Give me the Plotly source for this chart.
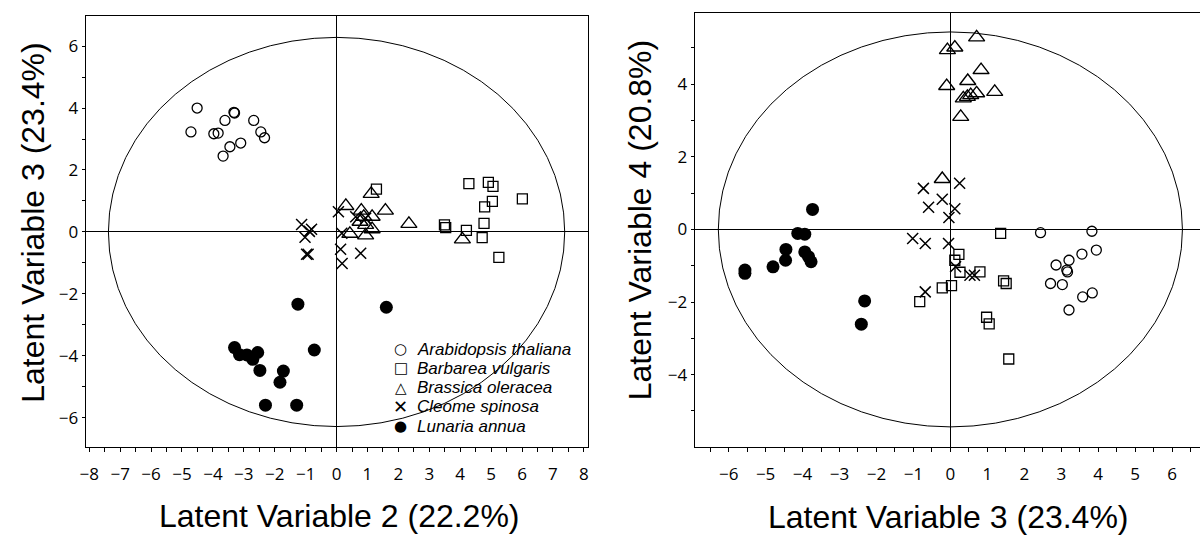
import plotly.graph_objects as go

W, H = 1201, 536

species = ["Arabidopsis thaliana", "Barbarea vulgaris", "Brassica oleracea",
           "Cleome spinosa", "Lunaria annua"]
legend_glyphs = ["○", "□", "△", "✕", "●"]
legend_glyph_sizes = [15, 15, 15, 18, 15]

# ---- Left panel: LV2 (x) vs LV3 (y) ----
ara_lv2 = [-4.71, -4.51, -3.97, -3.83, -3.61, -3.32, -3.30, -3.67, -3.45, -3.10, -2.68, -2.45, -2.33]
ara_lv3 = [3.23, 4.00, 3.17, 3.19, 3.60, 3.86, 3.84, 2.45, 2.75, 2.87, 3.60, 3.23, 3.04]

bar_lv2 = [1.29, 4.28, 4.91, 5.06, 6.01, 5.04, 4.79, 4.77, 3.49, 3.53, 4.20, 4.71, 5.25]
bar_lv3 = [1.38, 1.56, 1.60, 1.47, 1.07, 0.99, 0.81, 0.28, 0.23, 0.14, 0.05, -0.18, -0.82]

bra_lv2 = [1.12, 0.30, 0.80, 1.58, 0.88, 1.15, 0.76, 0.94, 1.15, 0.43, 0.94, 2.34, 4.07]
bra_lv3 = [1.23, 0.84, 0.69, 0.69, 0.49, 0.49, 0.33, 0.23, 0.09, -0.06, -0.11, 0.26, -0.24]

cle_lv2 = [-1.13, -0.81, -1.02, -0.97, -0.92, 0.06, 0.17, 0.13, 0.18, 0.78, 0.62, 0.94, -0.88]
cle_lv3 = [0.24, 0.09, -0.17, -0.72, -0.72, 0.65, -0.04, -0.56, -1.02, -0.69, 0.49, 0.44, 0.02]

lun_lv2 = [-1.25, -3.30, -3.14, -2.90, -2.71, -2.55, -2.48, -1.72, -1.83, -0.72, -2.30, -1.29, 1.61]
lun_lv3 = [-2.33, -3.73, -3.96, -3.97, -4.11, -3.89, -4.47, -4.49, -4.85, -3.81, -5.59, -5.59, -2.43]

# ---- Right panel: LV3 (x) vs LV4 (y) ----
ara_r3 = [2.44, 3.83, 3.95, 3.56, 3.21, 2.86, 3.15, 3.17, 2.71, 3.03, 3.84, 3.58, 3.21]
ara_r4 = [-0.09, -0.05, -0.57, -0.68, -0.85, -0.98, -1.12, -1.17, -1.49, -1.52, -1.75, -1.86, -2.22]

bar_r3 = [1.36, 0.23, 0.12, 0.26, 0.80, 1.44, 1.51, 0.03, -0.22, -0.83, 0.98, 1.05, 1.58]
bar_r4 = [-0.11, -0.69, -0.85, -1.18, -1.17, -1.42, -1.49, -1.55, -1.61, -1.99, -2.42, -2.60, -3.57]

bra_r3 = [0.71, -0.08, 0.12, 0.83, 0.47, -0.10, 1.20, 0.71, 0.55, 0.35, 0.28, -0.22, 0.46]
bra_r4 = [5.29, 4.94, 5.01, 4.39, 4.09, 3.95, 3.79, 3.75, 3.70, 3.61, 3.10, 1.39, 3.65]

cle_r3 = [-0.73, 0.25, -0.22, -0.59, 0.12, -0.04, -1.02, -0.68, -0.05, 0.14, 0.53, 0.65, -0.68]
cle_r4 = [1.13, 1.27, 0.83, 0.61, 0.57, 0.33, -0.25, -0.39, -0.39, -1.03, -1.26, -1.26, -1.72]

lun_r3 = [-3.73, -4.13, -3.94, -4.45, -3.94, -3.84, -3.77, -4.46, -4.80, -5.56, -5.56, -2.32, -2.41]
lun_r4 = [0.55, -0.11, -0.13, -0.55, -0.62, -0.75, -0.89, -0.85, -1.03, -1.12, -1.21, -1.97, -2.61]

# Hotelling ellipse semi-axes
ell_left = (7.38, 6.28)
ell_right = (6.28, 5.44)

left_sets = [(ara_lv2, ara_lv3), (bar_lv2, bar_lv3), (bra_lv2, bra_lv3), (cle_lv2, cle_lv3), (lun_lv2, lun_lv3)]
right_sets = [(ara_r3, ara_r4), (bar_r3, bar_r4), (bra_r3, bra_r4), (cle_r3, cle_r4), (lun_r3, lun_r4)]

styles = [
    dict(symbol="circle-open", size=10, color="black", line=dict(width=1.3, color="black")),
    dict(symbol="square-open", size=10, color="black", line=dict(width=1.3, color="black")),
    dict(symbol="triangle-up-open", size=14, color="black", line=dict(width=1.4, color="black")),
    dict(symbol="x-thin-open", size=11, color="black", line=dict(width=1.5, color="black")),
    dict(symbol="circle", size=13, color="black", line=dict(width=0, color="black")),
]

fig = go.Figure()
for i, name in enumerate(species):
    xs, ys = left_sets[i]
    fig.add_trace(go.Scatter(x=xs, y=ys, mode="markers", name=name,
                             marker=styles[i], xaxis="x", yaxis="y", showlegend=False))
for i, name in enumerate(species):
    xs, ys = right_sets[i]
    fig.add_trace(go.Scatter(x=xs, y=ys, mode="markers", name=name,
                             marker=styles[i], xaxis="x2", yaxis="y2", showlegend=False))

fig.add_shape(type="circle", xref="x", yref="y", x0=-ell_left[0], x1=ell_left[0],
              y0=-ell_left[1], y1=ell_left[1], line=dict(color="black", width=1), layer="below")
fig.add_shape(type="circle", xref="x2", yref="y2", x0=-ell_right[0], x1=ell_right[0],
              y0=-ell_right[1], y1=ell_right[1], line=dict(color="black", width=1), layer="below")

tickfont = dict(family="Open Sans", size=17, color="black")
common_x = dict(showgrid=False, zeroline=True, zerolinecolor="black", zerolinewidth=1,
                showline=True, linecolor="black", linewidth=1, mirror=True,
                ticks="outside", ticklen=4, tickcolor="black", tickwidth=1,
                tickmode="linear", tick0=0, dtick=1, tickfont=tickfont,
                ticklabelstandoff=8,
                minor=dict(ticks="outside", ticklen=4, dtick=0.5, tick0=0, tickcolor="black"))
common_y = dict(showgrid=False, zeroline=True, zerolinecolor="black", zerolinewidth=1,
                showline=True, linecolor="black", linewidth=1,
                ticks="outside", ticklen=3, tickcolor="black", tickwidth=1,
                tickmode="linear", tick0=0, dtick=2, tickfont=tickfont,
                minor=dict(ticks="outside", ticklen=3, dtick=1, tick0=0, tickcolor="black"))

fig.update_layout(
    width=W, height=H, margin=dict(l=0, r=0, t=0, b=0),
    paper_bgcolor="white", plot_bgcolor="white",
    xaxis=dict(domain=[80 / W, 585 / W], range=[-8.12, 8.12], anchor="y", **common_x),
    yaxis=dict(domain=[(H - 447) / H, (H - 16) / H], range=[-6.94, 6.97], anchor="x",
               mirror=True, **common_y),
    xaxis2=dict(domain=[692.7 / W, 1.0], range=[-6.92, 6.755], anchor="y2", **common_x),
    yaxis2=dict(domain=[(H - 446.5) / H, (H - 12.7) / H], range=[-5.98, 5.97], anchor="x2",
                mirror=False, **common_y),
    showlegend=False,
)

# Legend block (symbol + italic species name), lines 19.3 px apart
for k, name in enumerate(species):
    yc = 349 + 19.3 * k
    fig.add_annotation(text=legend_glyphs[k], xref="paper", yref="paper",
                       x=397 / W, y=(H - yc) / H, xanchor="center", yanchor="middle",
                       showarrow=False,
                       font=dict(family="DejaVu Sans", size=legend_glyph_sizes[k], color="black"))
    fig.add_annotation(text="<i>" + name + "</i>", xref="paper", yref="paper",
                       x=411 / W, y=(H - yc) / H, xanchor="left", yanchor="middle",
                       showarrow=False,
                       font=dict(family="Liberation Sans", size=17, color="black"))

title_font = dict(family="Liberation Sans", size=32, color="black")
fig.add_annotation(text="Latent Variable 2 (22.2%)", xref="paper", yref="paper",
                   x=335 / W, y=(H - 516) / H, xanchor="center", yanchor="middle",
                   showarrow=False, font=title_font)
fig.add_annotation(text="Latent Variable 3 (23.4%)", xref="paper", yref="paper",
                   x=948 / W, y=(H - 517) / H, xanchor="center", yanchor="middle",
                   showarrow=False, font=title_font)
fig.add_annotation(text="Latent Variable 3 (23.4%)", xref="paper", yref="paper",
                   x=27 / W, y=(H - 222) / H, xanchor="center", yanchor="middle",
                   textangle=-90, showarrow=False, font=title_font)
fig.add_annotation(text="Latent Variable 4 (20.8%)", xref="paper", yref="paper",
                   x=638 / W, y=(H - 220) / H, xanchor="center", yanchor="middle",
                   textangle=-90, showarrow=False, font=title_font)

fig.write_html("out.html")
